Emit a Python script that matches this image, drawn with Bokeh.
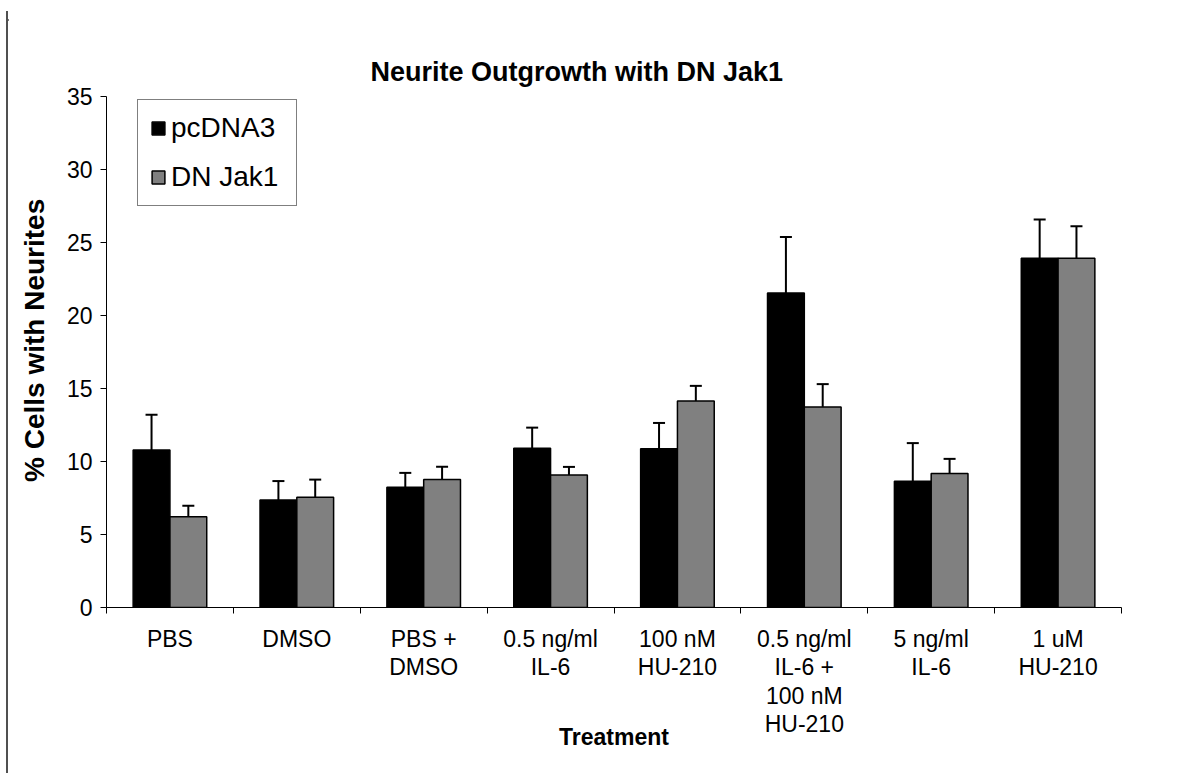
from bokeh.plotting import figure
from bokeh.layouts import column, row
from bokeh.models import (Range1d, FixedTicker, ColumnDataSource, Whisker, TeeHead,
                          Legend, LegendItem, Div)
from bokeh.transform import dodge
from bokeh.embed import file_html
from bokeh.resources import INLINE

# ---- data ----
categories = ["PBS", "DMSO", "PBS +\nDMSO", "0.5 ng/ml\nIL-6", "100 nM\nHU-210",
              "0.5 ng/ml\nIL-6 +\n100 nM\nHU-210", "5 ng/ml\nIL-6", "1 uM\nHU-210"]
pcdna3 = [10.78, 7.36, 8.24, 10.9, 10.87, 21.54, 8.65, 23.92]
pcdna3_err = [2.43, 1.3, 0.98, 1.42, 1.77, 3.83, 2.61, 2.66]
dnjak1 = [6.21, 7.55, 8.76, 9.08, 14.15, 13.74, 9.18, 23.92]
dnjak1_err = [0.76, 1.21, 0.88, 0.55, 1.03, 1.56, 1.0, 2.2]
y_ticks = [0, 5, 10, 15, 20, 25, 30, 35]
title_text = "Neurite Outgrowth with DN Jak1"
x_title = "Treatment"
y_title = "\u00a0\u00a0\u00a0% Cells with Neurites"
series_names = ["pcDNA3", "DN Jak1"]

FONT = "Liberation Sans"
FRAME_GREY = "#505050"
n = len(categories)
centers = [i + 0.5 for i in range(n)]

p = figure(width=1166, height=762, x_range=Range1d(0, n), y_range=Range1d(0, 35),
           output_backend="svg", toolbar_location=None, title=title_text,
           min_border_left=98, min_border_right=53, min_border_top=85, min_border_bottom=166)
p.outline_line_color = None
p.xgrid.visible = False
p.ygrid.visible = False
p.background_fill_color = "white"
p.border_fill_color = "white"

# title
p.title.text_font = FONT
p.title.text_font_size = "27px"
p.title.text_font_style = "bold"
p.title.text_color = "black"
p.title.align = "left"
p.title.offset = 264
p.title.standoff = 20

# x axis: labels at category centres, tick marks on category boundaries
p.xaxis.ticker = FixedTicker(ticks=centers, minor_ticks=list(range(n + 1)))
p.xaxis.major_label_overrides = {c: lab for c, lab in zip(centers, categories)}
p.xaxis.major_tick_in = 0
p.xaxis.major_tick_out = 0
p.xaxis.major_tick_line_color = None
p.xaxis.minor_tick_in = 0
p.xaxis.minor_tick_out = 6
p.xaxis.minor_tick_line_color = "black"
p.xaxis.axis_line_color = "black"
p.xaxis.major_label_text_font = FONT
p.xaxis.major_label_text_font_size = "23px"
p.xaxis.major_label_text_color = "black"
p.xaxis.major_label_text_line_height = 1.1
p.xaxis.major_label_standoff = 12
p.xaxis.major_label_orientation = "horizontal"
p.xaxis.axis_label = x_title
p.xaxis.axis_label_text_font = FONT
p.xaxis.axis_label_text_font_size = "23px"
p.xaxis.axis_label_text_font_style = "bold"
p.xaxis.axis_label_text_color = "black"
p.xaxis.axis_label_standoff = -16

# y axis
p.yaxis.ticker = FixedTicker(ticks=y_ticks)
p.yaxis.minor_tick_line_color = None
p.yaxis.major_tick_in = 0
p.yaxis.major_tick_out = 6
p.yaxis.axis_line_color = "black"
p.yaxis.major_tick_line_color = "black"
p.yaxis.major_label_text_font = FONT
p.yaxis.major_label_text_font_size = "23px"
p.yaxis.major_label_text_color = "black"
p.yaxis.major_label_standoff = 8
p.yaxis.axis_label = y_title
p.yaxis.axis_label_text_font = FONT
p.yaxis.axis_label_text_font_size = "28px"
p.yaxis.axis_label_text_font_style = "bold"
p.yaxis.axis_label_text_color = "black"
p.yaxis.axis_label_standoff = 14

src = ColumnDataSource(dict(
    xc=centers,
    pc=pcdna3, pc_hi=[v + e for v, e in zip(pcdna3, pcdna3_err)],
    dn=dnjak1, dn_hi=[v + e for v, e in zip(dnjak1, dnjak1_err)],
))

w = 0.29
r1 = p.vbar(x=dodge("xc", -w / 2, range=p.x_range), top="pc", width=w, source=src,
            fill_color="black", line_color="black", line_width=1.5)
r2 = p.vbar(x=dodge("xc", w / 2, range=p.x_range), top="dn", width=w, source=src,
            fill_color="#808080", line_color="black", line_width=1.5)

for off, lo, hi in [(-w / 2, "pc", "pc_hi"), (w / 2, "dn", "dn_hi")]:
    p.add_layout(Whisker(source=src, base=dodge("xc", off, range=p.x_range),
                         lower=lo, upper=hi, dimension="height",
                         line_color="black", line_width=2,
                         upper_head=TeeHead(size=12, line_width=2, line_color="black"),
                         lower_head=None))

legend = Legend(items=[LegendItem(label=series_names[0], renderers=[r1]),
                       LegendItem(label=series_names[1], renderers=[r2])],
                location=(31, 401), orientation="vertical",
                border_line_color="black", border_line_width=1,
                background_fill_color="white", background_fill_alpha=1,
                padding=12, spacing=17, margin=0,
                glyph_width=16, glyph_height=16, label_standoff=5, label_width=113,
                label_text_font=FONT, label_text_font_size="28px", label_text_color="black")
p.add_layout(legend)

# outer chart-area border (left and top edges only, as in the reference),
# drawn as explicitly sized inner elements so nothing can stretch
top_edge = Div(text='<div style="width:1168px;height:2px;background:%s"></div>' % FRAME_GREY,
               width=1168, height=2, margin=0)
left_edge = Div(text='<div style="width:2px;height:762px;background:%s"></div>' % FRAME_GREY,
                width=2, height=762, margin=0)
layout = column(top_edge, row(left_edge, p, spacing=0), spacing=0)
layout.margin = (9, 0, 0, 6)

open("out.html", "w").write(file_html(layout, INLINE))
